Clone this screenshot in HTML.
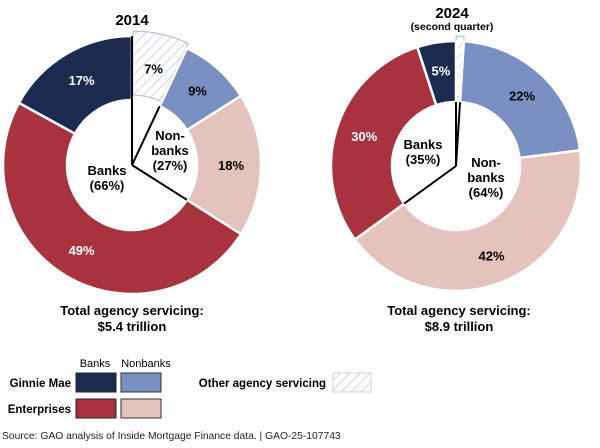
<!DOCTYPE html>
<html><head><meta charset="utf-8"><style>
body{margin:0;background:#fff;width:600px;height:443px;overflow:hidden;font-family:"Liberation Sans",Arial,sans-serif}
svg text{font-family:"Liberation Sans",Arial,sans-serif}
</style></head><body>
<svg id="c" width="600" height="443" viewBox="0 0 600 443" xmlns="http://www.w3.org/2000/svg">
<defs>
<pattern id="hatch" patternUnits="userSpaceOnUse" width="7" height="7" patternTransform="rotate(45)">
<rect width="7" height="7" fill="#fff"/><line x1="0" y1="0" x2="0" y2="7" stroke="#bccbe0" stroke-width="1.5"/>
</pattern>
</defs>
<text x="132" y="25" text-anchor="middle" font-size="15" font-weight="bold">2014</text>
<text x="452" y="18" text-anchor="middle" font-size="15" font-weight="bold">2024</text>
<text x="452" y="30" text-anchor="middle" font-size="10.5" font-weight="bold">(second quarter)</text>
<g id="d1"></g>
<g id="d2"></g>
<text x="132" y="315" text-anchor="middle" font-size="13" font-weight="bold">Total agency servicing:</text>
<text x="132" y="331" text-anchor="middle" font-size="13" font-weight="bold">$5.4 trillion</text>
<text x="459" y="315" text-anchor="middle" font-size="13" font-weight="bold">Total agency servicing:</text>
<text x="459" y="331" text-anchor="middle" font-size="13" font-weight="bold">$8.9 trillion</text>
<g>
<text x="95" y="367" text-anchor="middle" font-size="11">Banks</text>
<text x="146" y="367" text-anchor="middle" font-size="11">Nonbanks</text>
<text x="71" y="387" text-anchor="end" font-size="11.5" font-weight="bold">Ginnie Mae</text>
<text x="71" y="413" text-anchor="end" font-size="11.5" font-weight="bold">Enterprises</text>
<rect x="76" y="373" width="40" height="19" fill="#1b2a4e" stroke="#222"/>
<rect x="121" y="373" width="40" height="19" fill="#7a8fc2" stroke="#333"/>
<rect x="76" y="399" width="40" height="19" fill="#a8323e" stroke="#222"/>
<rect x="121" y="399" width="40" height="19" fill="#e5c3bd" stroke="#333"/>
<text x="326" y="387" text-anchor="end" font-size="11.5" font-weight="bold">Other agency servicing</text>
<rect x="333" y="373" width="38" height="19" fill="url(#hatch)" stroke="#c8d3e2"/>
</g>
<text x="2" y="439" font-size="10.3" fill="#222">Source: GAO analysis of Inside Mortgage Finance data.  |  GAO-25-107743</text>
</svg>
<script>
const categories=["Other agency servicing","Ginnie Mae nonbanks","Enterprises nonbanks","Enterprises banks","Ginnie Mae banks"];
const values2014=[7,9,18,49,17];
const values2024=[1,22,42,30,5];
const labels2014=["7%","9%","18%","49%","17%"];
const labels2024=["","22%","42%","30%","5%"];
const fills=["url(#hatch)","#7a8fc2","#e5c3bd","#a8323e","#1b2a4e"];
const textColors=["#000","#000","#000","#fff","#fff"];
const NS="http://www.w3.org/2000/svg";
function pt(cx,cy,r,a){return [cx+r*Math.sin(a),cy-r*Math.cos(a)];}
function draw(gid,vals,labs,cx,cy,R,r,year){
  const g=document.getElementById(gid);
  const tot=vals.reduce((a,b)=>a+b,0);
  let acc=0;const bounds=[];
  vals.forEach((v,i)=>{
    const a0=acc/tot*2*Math.PI;acc+=v;const a1=acc/tot*2*Math.PI;bounds.push(a0);
    const m=(a0+a1)/2;const ex=i===0?5:0;const ox=ex*Math.sin(m),oy=-ex*Math.cos(m);
    const p1=pt(cx+ox,cy+oy,R,a0),p2=pt(cx+ox,cy+oy,R,a1),p3=pt(cx+ox,cy+oy,r,a1),p4=pt(cx+ox,cy+oy,r,a0);
    const lg=(a1-a0)>Math.PI?1:0;
    const p=document.createElementNS(NS,"path");
    p.setAttribute("d",`M${p1}A${R},${R} 0 ${lg} 1 ${p2}L${p3}A${r},${r} 0 ${lg} 0 ${p4}Z`);
    p.setAttribute("fill",fills[i]);
    p.setAttribute("stroke",i===0?"#b8c4d6":"#fff");
    p.setAttribute("stroke-width",i===0?1.2:2.5);
    
    
    g.appendChild(p);
    if(labs[i]){
      const q=pt(cx,cy,(R+r)/2+2,m);
      const t=document.createElementNS(NS,"text");
      t.setAttribute("x",q[0]);t.setAttribute("y",q[1]+5);
      t.setAttribute("text-anchor","middle");t.setAttribute("font-size","13");t.setAttribute("font-weight","bold");
      t.setAttribute("fill",textColors[i]);t.textContent=labs[i];
      
      
      g.appendChild(t);
    }
  });
  [bounds[0],bounds[1],bounds[3]].forEach((a,k)=>{
    const e=pt(cx,cy,(k===0&&year==="2014")?R:r,a);
    const l=document.createElementNS(NS,"line");
    l.setAttribute("x1",cx);l.setAttribute("y1",cy);l.setAttribute("x2",e[0]);l.setAttribute("y2",e[1]);
    l.setAttribute("stroke","#000");l.setAttribute("stroke-width","2");
    
    
    g.appendChild(l);
  });
}
draw("d1",values2014,labels2014,132,165,129,65,"2014");
draw("d2",values2024,labels2024,456,166,125,64,"2024");
function txt(g,lines,x,y,name){
  lines.forEach((s,i)=>{const t=document.createElementNS(NS,"text");
  t.setAttribute("x",x);t.setAttribute("y",y+i*15);t.setAttribute("text-anchor","middle");
  t.setAttribute("font-size","13");t.setAttribute("font-weight","bold");t.textContent=s;
  
  
  document.getElementById(g).appendChild(t);});
}
const bankShare2014=values2014[3]+values2014[4],nonShare2014=values2014[1]+values2014[2];
const bankShare2024=values2024[3]+values2024[4],nonShare2024=values2024[1]+values2024[2];
txt("d1",["Banks","("+bankShare2014+"%)"],107,175,"banks-share-2014");
txt("d1",["Non-","banks","("+nonShare2014+"%)"],170,140,"nonbanks-share-2014");
txt("d2",["Banks","("+bankShare2024+"%)"],423,149,"banks-share-2024");
txt("d2",["Non-","banks","("+nonShare2024+"%)"],486,167,"nonbanks-share-2024");
</script>
</body></html>
